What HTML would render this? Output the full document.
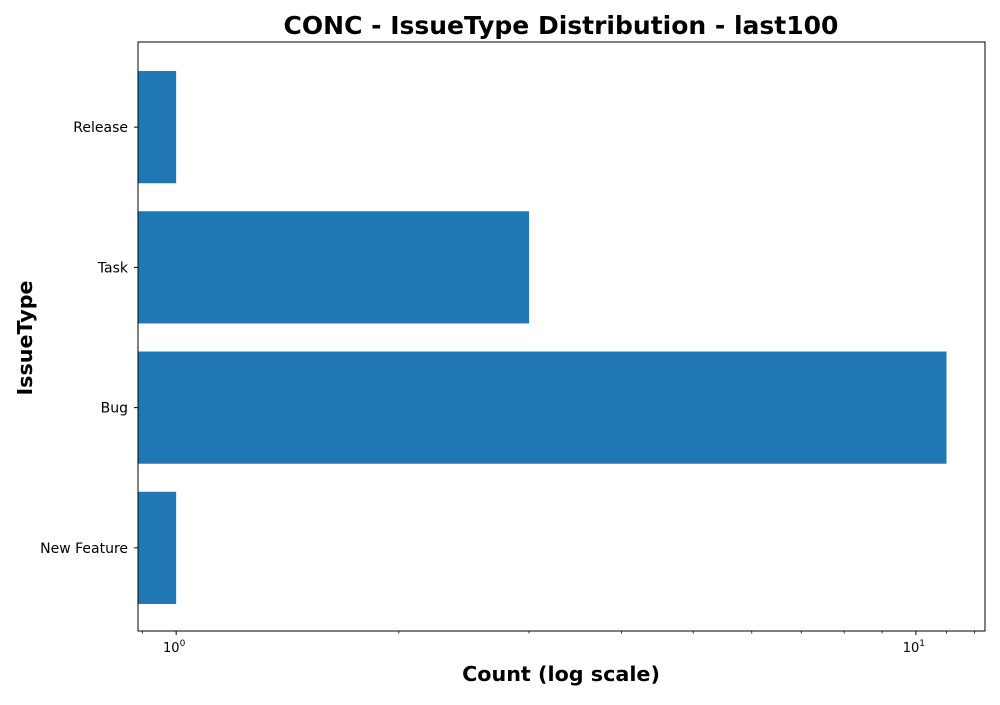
<!DOCTYPE html>
<html><head><meta charset="utf-8">
<style>
body{margin:0;background:#fff;}
svg text{font-family:"DejaVu Sans","Liberation Sans",sans-serif;}
</style></head>
<body>
<svg id="chart" width="1000" height="700" xmlns="http://www.w3.org/2000/svg">
<text x="561" y="34" font-size="25" font-weight="bold" text-anchor="middle">CONC - IssueType Distribution - last100</text>
<text x="561" y="681" font-size="20.7" font-weight="bold" text-anchor="middle">Count (log scale)</text>
<text transform="translate(32,338) rotate(-90)" font-size="20.7" font-weight="bold" text-anchor="middle">IssueType</text>
<g id="plot"></g>
</svg>
<script>
const categories = ["New Feature","Bug","Task","Release"];
const counts = [1, 11, 3, 1];
const majorTicks = [1, 10];
const majorLabels = ["0", "1"];
const minorTicks = [0.9, 2, 3, 4, 5, 6, 7, 8, 9, 11, 12];

const L=138,R=985,T=42,B=631;
const xmin=0.888, xmax=12.4;
function x(v){return L+(Math.log10(v)-Math.log10(xmin))/(Math.log10(xmax)-Math.log10(xmin))*(R-L);}
const n=categories.length;
const lo=-0.6, hi=n-1+0.6;
function y(i){return B+1-(i-lo)/(hi-lo)*(B-T);}
const step=(B-T)/(hi-lo);
const ns="http://www.w3.org/2000/svg";
const g=document.getElementById('plot');
function mk(tag,attrs){const e=document.createElementNS(ns,tag);for(const k in attrs)e.setAttribute(k,attrs[k]);g.appendChild(e);return e;}
const bh=step*0.8;
counts.forEach((c,i)=>{
  const r=mk('rect',{x:L,y:y(i)-bh/2,width:Math.max(0,x(c)-L),height:bh,fill:'#1f77b4'});
  
  
  const t=mk('line',{x1:L-4,x2:L,y1:y(i),y2:y(i),stroke:'#000','stroke-width':1});
  
  
  const lb=mk('text',{x:L-10,y:y(i)+5,'font-size':14,'text-anchor':'end'});
  lb.textContent=categories[i];
  
  
});
const frame=mk('rect',{x:L,y:T,width:R-L,height:B-T,fill:'none',stroke:'#000','stroke-width':1});


majorTicks.forEach((v,i)=>{
  const t=mk('line',{x1:x(v),x2:x(v),y1:B,y2:B+4,stroke:'#000','stroke-width':1});
  
  
  const lb=mk('text',{x:x(v)-2,y:B+21,'font-size':13,'text-anchor':'middle'});
  
  
  lb.innerHTML='10<tspan dy="-6" font-size="9">'+majorLabels[i]+'</tspan>';
});
minorTicks.forEach(v=>{
  const t=mk('line',{x1:x(v),x2:x(v),y1:B,y2:B+2.5,stroke:'#000','stroke-width':0.8});
  
  
});
</script>
</body></html>
